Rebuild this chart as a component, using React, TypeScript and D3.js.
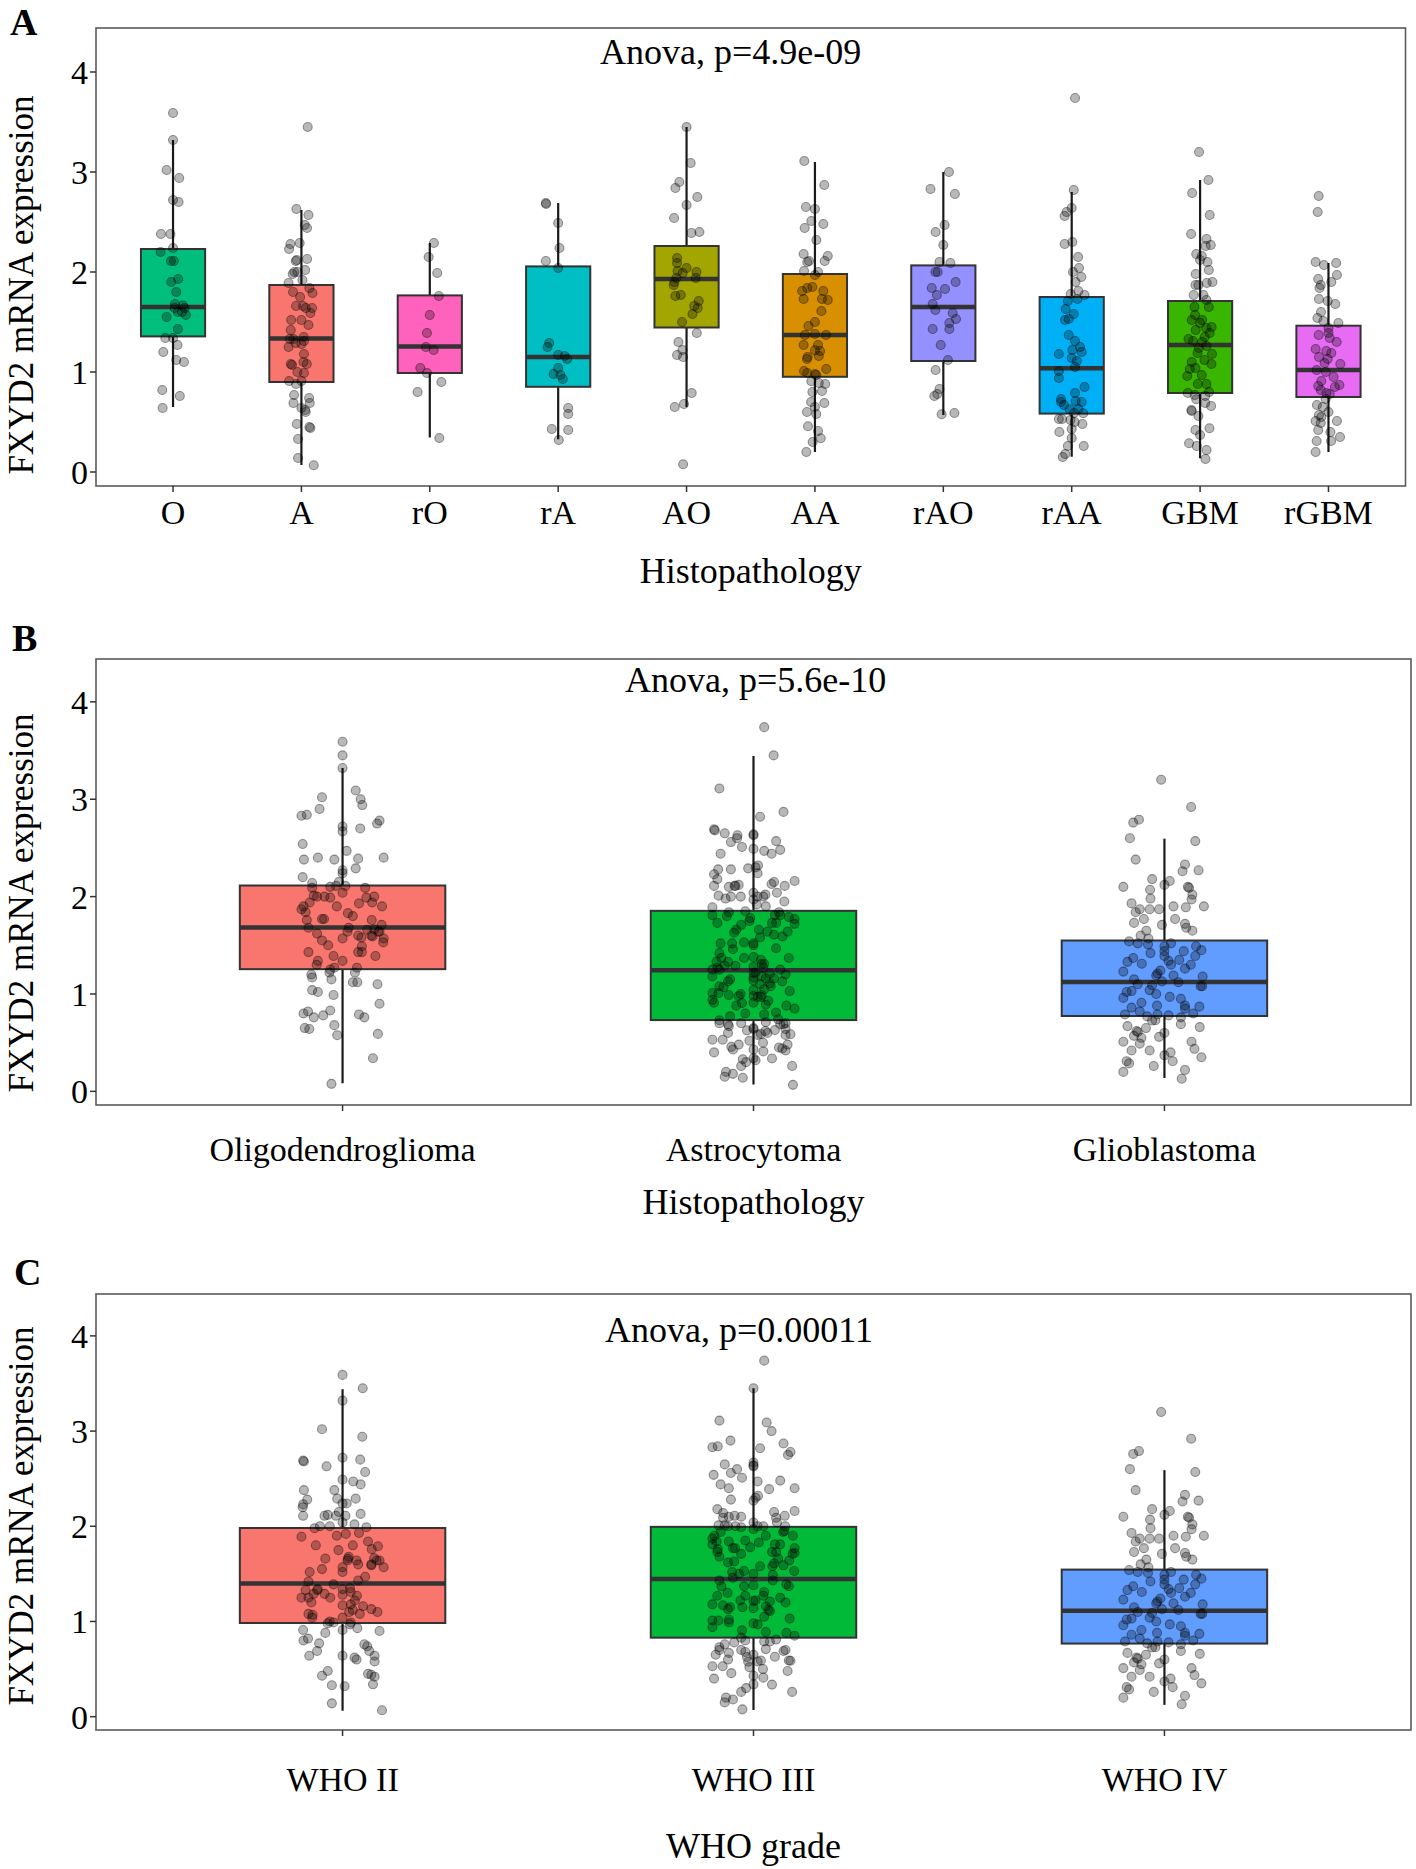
import React from "react";
import * as d3 from "d3";

// ---------------- DATA ----------------
const yTickValues = [0, 1, 2, 3, 4];

const histCategories = ["O", "A", "rO", "rA", "AO", "AA", "rAO", "rAA", "GBM", "rGBM"];
const histColors = ["#00BF7D", "#F8766D", "#FF62BC", "#00BFC4", "#A3A500", "#D89000", "#9590FF", "#00B0F6", "#39B600", "#E76BF3"];
const histLower = [0.65, 0.07, 0.345, 0.327, 0.65, 0.2, 0.57, 0.153, 0.137, 0.2];
const histQ1 = [1.356, 0.9, 0.99, 0.852, 1.445, 0.952, 1.11, 0.584, 0.79, 0.75];
const histMedian = [1.649, 1.334, 1.256, 1.15, 1.93, 1.37, 1.65, 1.038, 1.27, 1.02];
const histQ3 = [2.23, 1.87, 1.766, 2.056, 2.26, 1.98, 2.066, 1.75, 1.71, 1.463];
const histUpper = [3.32, 2.62, 2.29, 2.69, 3.45, 3.1, 3.0, 2.8, 2.92, 2.09];

// points: [value, jitter offset in category units]
type Pt = [number, number];
const O_pts: Pt[] = [[3.59,0],[3.32,0],[3.02,-0.05],[2.94,0.048],[2.72,0],[2.7,0.043],[2.38,-0.094],[2.38,-0.02],[2.24,0],[2.2,-0.097],[2.11,-0.016],[2.11,0.007],[1.9,-0.014],[1.93,0.04],[1.8,0.025],[1.68,0.015],[1.665,0.077],[1.64,0.09],[1.64,0.012],[1.6,0.038],[1.6,0.07],[1.57,0.1],[1.55,-0.05],[1.43,0.038],[1.34,-0.06],[1.34,0],[1.27,0.035],[1.2,-0.076],[1.12,0.025],[1.1,0.085],[0.82,-0.084],[0.76,0.053],[0.64,-0.081]];
const A_pts: Pt[] = [[3.45,0.049],[2.63,-0.039],[2.57,0.055],[2.47,0.026],[2.44,0.044],[2.28,-0.086],[2.29,-0.013],[2.23,-0.096],[2.11,-0.044],[2.12,-0.036],[2.13,0.044],[2.0,-0.055],[2.0,-0.031],[2.02,0.029],[1.98,-0.068],[1.89,-0.1],[1.92,0.008],[1.84,0.062],[1.79,0.086],[1.8,-0.065],[1.75,-0.01],[1.66,-0.042],[1.66,0.013],[1.64,0.034],[1.64,0.083],[1.59,0.07],[1.52,-0.08],[1.52,0],[1.47,0.055],[1.42,-0.083],[1.33,-0.09],[1.33,-0.062],[1.35,0.018],[1.29,-0.044],[1.28,0],[1.31,0.02],[1.25,-0.1],[1.18,0.02],[1.08,-0.083],[1.07,-0.073],[1.1,0.016],[1.08,0.042],[1.0,-0.031],[0.99,0.02],[0.91,-0.096],[0.88,-0.042],[0.91,0],[0.77,-0.057],[0.69,-0.062],[0.74,0.06],[0.69,0.065],[0.64,0],[0.6,0.034],[0.62,0.029],[0.48,-0.036],[0.45,0.062],[0.44,0.07],[0.33,-0.026],[0.14,-0.026],[0.067,0.096]];
const rO_pts: Pt[] = [[2.29,0.032],[2.15,-0.009],[1.99,0.058],[1.76,0.071],[1.57,0],[1.39,-0.022],[1.25,-0.03],[1.22,0.03],[1.04,-0.074],[0.99,-0.022],[0.9,0.09],[0.8,-0.095],[0.34,0.074]];
const rA_pts: Pt[] = [[2.69,-0.096],[2.68,-0.094],[2.49,0],[2.24,0.01],[2.11,-0.096],[2.04,0],[1.29,-0.07],[1.25,-0.083],[1.17,0],[1.16,0.05],[1.13,0.07],[1.04,0],[0.98,-0.036],[0.97,0.018],[0.93,0.036],[0.64,0.078],[0.58,0.078],[0.43,-0.05],[0.42,0.078],[0.32,0.005]];
const AO_pts: Pt[] = [[3.45,0],[3.09,0.032],[2.9,-0.056],[2.84,-0.087],[2.75,0.084],[2.67,0],[2.54,-0.097],[2.39,0.038],[2.4,0.1],[2.14,-0.074],[2.09,-0.074],[2.04,0],[2.0,0.077],[2.01,-0.07],[1.99,-0.03],[1.94,-0.08],[1.9,-0.095],[1.94,0.072],[1.87,-0.1],[1.76,-0.087],[1.77,-0.045],[1.71,0.095],[1.66,0.06],[1.64,0.087],[1.58,0.046],[1.5,-0.035],[1.39,0.08],[1.3,-0.063],[1.17,-0.074],[1.22,-0.032],[1.15,-0.027],[0.79,0.04],[0.65,-0.092],[0.68,-0.02],[0.077,-0.027]];
const AA_pts: Pt[] = [[3.11,-0.083],[2.87,0.073],[2.65,-0.07],[2.63,0],[2.51,-0.028],[2.44,-0.08],[2.48,0.065],[2.32,0.011],[2.18,-0.088],[2.16,0.1],[2.1,-0.06],[2.11,-0.046],[2.11,0.076],[2.01,-0.085],[2.0,0.024],[1.97,0],[1.85,-0.02],[1.84,-0.06],[1.81,-0.1],[1.81,0.065],[1.73,-0.088],[1.73,0.055],[1.72,0.1],[1.61,0.05],[1.5,0],[1.46,-0.05],[1.37,-0.078],[1.38,0],[1.37,0.086],[1.27,0.024],[1.27,-0.088],[1.217,0],[1.21,0.04],[1.13,-0.062],[1.15,-0.057],[1.16,0.03],[1.01,-0.085],[1.03,0.088],[0.99,-0.06],[0.98,0],[0.97,0.01],[0.907,-0.028],[0.89,0.03],[0.88,0.08],[0.8,-0.02],[0.81,0.055],[0.7,-0.03],[0.69,0.073],[0.65,0],[0.6,-0.062],[0.58,0.01],[0.457,-0.054],[0.41,0.024],[0.337,0.045],[0.3,-0.018],[0.2,-0.067]];
const rAO_pts: Pt[] = [[3.0,0.044],[2.83,-0.1],[2.78,0.09],[2.47,0.01],[2.4,-0.06],[2.27,0],[2.1,-0.03],[2.09,0.055],[2.0,-0.062],[2.0,-0.044],[1.9,0.096],[1.84,-0.09],[1.83,0.013],[1.77,-0.05],[1.68,-0.083],[1.62,-0.062],[1.59,0.073],[1.53,0.099],[1.49,0.047],[1.43,0.047],[1.43,-0.083],[1.27,-0.02],[1.12,0.036],[1.02,-0.06],[0.83,-0.03],[0.76,-0.07],[0.78,-0.047],[0.577,-0.013],[0.59,0.086]];
const rAA_pts: Pt[] = [[3.74,0.026],[2.82,0.016],[2.64,0],[2.6,-0.04],[2.56,-0.055],[2.28,-0.055],[2.3,0.005],[2.15,0.05],[2.04,0.057],[2.0,0.01],[1.95,0.075],[1.9,0.03],[1.78,-0.008],[1.81,0.052],[1.77,0.1],[1.71,-0.03],[1.73,0.045],[1.63,-0.047],[1.58,0.016],[1.52,-0.052],[1.53,-0.023],[1.37,-0.023],[1.31,0.026],[1.25,0.065],[1.2,0.078],[1.22,0.005],[1.18,-0.1],[1.14,0],[1.11,0.04],[1.05,0.026],[1.01,-0.1],[0.94,-0.1],[0.85,0.1],[0.79,0.026],[0.73,-0.083],[0.7,0.078],[0.7,-0.083],[0.67,-0.06],[0.71,0.03],[0.627,-0.016],[0.63,0.052],[0.587,0.09],[0.59,0.018],[0.53,-0.1],[0.52,-0.01],[0.5,0.023],[0.48,0.083],[0.53,-0.075],[0.43,0],[0.4,-0.096],[0.34,0],[0.26,-0.03],[0.26,0.094],[0.18,-0.05],[0.15,-0.07]];
const GBM_pts: Pt[] = [[3.2,-0.008],[2.92,0.065],[2.79,-0.062],[2.57,0.075],[2.38,-0.07],[2.33,0.05],[2.27,0.083],[2.26,0.044],[2.18,-0.03],[2.16,0.013],[2.12,0],[2.1,0.057],[2.02,0.068],[1.98,-0.034],[1.9,0.096],[1.89,0.052],[1.87,-0.036],[1.87,-0.013],[1.77,-0.05],[1.77,0.026],[1.72,0.05],[1.65,0.068],[1.65,-0.044],[1.57,-0.039],[1.52,-0.065],[1.52,0.016],[1.49,0],[1.44,0.047],[1.45,0.09],[1.42,-0.034],[1.39,0.075],[1.35,0.036],[1.33,-0.09],[1.31,-0.055],[1.3,0.016],[1.26,0.05],[1.24,-0.01],[1.19,-0.02],[1.18,0.093],[1.12,0.034],[1.1,-0.065],[1.08,0.088],[1.04,-0.036],[1.03,-0.08],[0.97,0.013],[0.96,-0.1],[0.88,-0.018],[0.88,0.05],[0.8,0.07],[0.79,-0.096],[0.77,-0.042],[0.76,0.04],[0.727,-0.03],[0.69,0.04],[0.66,0.086],[0.62,-0.068],[0.61,-0.065],[0.56,-0.013],[0.437,0.073],[0.42,-0.036],[0.37,0],[0.287,-0.086],[0.26,-0.026],[0.22,0.05],[0.13,0.042]];
const rGBM_pts: Pt[] = [[2.76,-0.076],[2.6,-0.084],[2.1,-0.1],[2.09,0.06],[2.07,-0.035],[1.97,0.066],[1.93,-0.08],[1.9,0.022],[1.87,-0.06],[1.84,-0.07],[1.73,-0.074],[1.71,-0.006],[1.68,0.053],[1.6,-0.058],[1.54,-0.086],[1.51,-0.04],[1.49,0.077],[1.44,0],[1.37,-0.076],[1.34,0.01],[1.3,0.064],[1.21,-0.017],[1.23,-0.1],[1.15,-0.074],[1.13,-0.006],[1.08,0.092],[1.02,-0.092],[1.0,-0.02],[0.95,0.04],[0.91,-0.056],[0.87,0.085],[0.86,-0.08],[0.82,-0.06],[0.78,0.01],[0.73,-0.022],[0.67,-0.09],[0.65,-0.045],[0.6,0],[0.57,-0.074],[0.51,-0.1],[0.51,0.066],[0.49,-0.06],[0.42,-0.08],[0.4,0.015],[0.35,0.09],[0.31,-0.092],[0.31,0.02],[0.2,-0.1],[0.55,-0.056],[1.39,0],[1.19,0.022],[1.09,-0.03],[0.85,0.05],[0.79,-0.017]];

const typeCategories = ["Oligodendroglioma", "Astrocytoma", "Glioblastoma"];
const gradeCategories = ["WHO II", "WHO III", "WHO IV"];
const threeColors = ["#F8766D", "#00BA38", "#619CFF"];

const typeLower = [0.083, 0.07, 0.137];
const typeQ1 = [1.255, 0.732, 0.774];
const typeMedian = [1.682, 1.243, 1.122];
const typeQ3 = [2.114, 1.854, 1.549];
const typeUpper = [3.32, 3.445, 2.595];

const gradeLower = [0.062, 0.07, 0.124];
const gradeQ1 = [0.984, 0.83, 0.768];
const gradeMedian = [1.4, 1.445, 1.113];
const gradeQ3 = [1.982, 1.994, 1.545];
const gradeUpper = [3.44, 3.45, 2.59];

const histGroups = [O_pts, A_pts, rO_pts, rA_pts, AO_pts, AA_pts, rAO_pts, rAA_pts, GBM_pts, rGBM_pts];
const typeGroups = [
  [...O_pts, ...rO_pts, ...AO_pts, ...rAO_pts],
  [...A_pts, ...rA_pts, ...AA_pts, ...rAA_pts],
  [...GBM_pts, ...rGBM_pts],
];
const gradeGroups = [
  [...O_pts, ...A_pts, ...rO_pts, ...rA_pts],
  [...AO_pts, ...AA_pts, ...rAO_pts, ...rAA_pts],
  [...GBM_pts, ...rGBM_pts],
];

const yDomain: [number, number] = [-0.14, 4.44];
const yTitle = "FXYD2 mRNA expression";

// ---------------- RENDER ----------------
const FONT = '"Liberation Serif", "Times New Roman", serif';

type PanelProps = {
  letter: string; letterX: number; letterY: number;
  top: number; bottom: number; left: number; right: number;
  categories: string[]; colors: string[];
  lower: number[]; q1: number[]; median: number[]; q3: number[]; upper: number[];
  groups: Pt[][];
  anova: string; anovaX: number; anovaY: number;
  xTitle: string; tickBaseline: number; titleBaseline: number; yTitleCenter: number;
};

function Panel(p: PanelProps) {
  const x = d3.scalePoint<string>().domain(p.categories).range([p.left, p.right]).padding(0.6);
  const step = x.step();
  const y = d3.scaleLinear().domain(yDomain).range([p.bottom, p.top]);
  const bw = step * 0.5;
  return (
    <g>
      <text x={p.letterX} y={p.letterY} fontFamily={FONT} fontWeight="bold" fontSize={38}>{p.letter}</text>
      {p.categories.map((c, i) => {
        const cx = x(c)!;
        return (
          <g key={c}>
            <line x1={cx} x2={cx} y1={y(p.lower[i])} y2={y(p.upper[i])} stroke="#1a1a1a" strokeWidth={2.2} />
            <rect x={cx - bw / 2} width={bw} y={y(p.q3[i])} height={y(p.q1[i]) - y(p.q3[i])}
              fill={p.colors[i]} stroke="#333" strokeWidth={2} />
            <line x1={cx - bw / 2} x2={cx + bw / 2} y1={y(p.median[i])} y2={y(p.median[i])} stroke="#333" strokeWidth={4.5} />
          </g>
        );
      })}
      {p.categories.map((c, i) => {
        const cx = x(c)!;
        return (
          <g key={"p" + c}>
            {p.groups[i].map((d, k) => (
              <circle key={k} cx={cx + d[1] * step} cy={y(d[0])} r={4.5}
                fill="rgba(0,0,0,0.28)" stroke="rgba(0,0,0,0.38)" strokeWidth={1.1} />
            ))}
          </g>
        );
      })}
      <rect x={p.left} y={p.top} width={p.right - p.left} height={p.bottom - p.top}
        fill="none" stroke="#5a5a5a" strokeWidth={1.6} />
      {yTickValues.map((t) => (
        <g key={t}>
          <line x1={p.left - 6} x2={p.left} y1={y(t)} y2={y(t)} stroke="#333" strokeWidth={1.5} />
          <text x={p.left - 8} y={y(t)} dy="0.35em" textAnchor="end" fontFamily={FONT} fontSize={34}>{t}</text>
        </g>
      ))}
      {p.categories.map((c) => (
        <g key={"t" + c}>
          <line x1={x(c)!} x2={x(c)!} y1={p.bottom} y2={p.bottom + 6} stroke="#333" strokeWidth={1.5} />
          <text x={x(c)!} y={p.tickBaseline} textAnchor="middle" fontFamily={FONT} fontSize={34}>{c}</text>
        </g>
      ))}
      <text x={(p.left + p.right) / 2} y={p.titleBaseline} textAnchor="middle" fontFamily={FONT} fontSize={36}>{p.xTitle}</text>
      <text transform={`translate(33,${p.yTitleCenter}) rotate(-90)`} textAnchor="middle" fontFamily={FONT} fontSize={35}>{yTitle}</text>
      <text x={p.anovaX} y={p.anovaY} fontFamily={FONT} fontSize={36}>{p.anova}</text>
    </g>
  );
}

export default function App() {
  return (
    <svg width={1416} height={1869} style={{ position: "absolute", left: 0, top: 0, background: "#fff" }}>
      <rect x={0} y={0} width={1416} height={1869} fill="#fff" />
      <Panel letter="A" letterX={10} letterY={35} top={28} bottom={486} left={96} right={1405.5}
        categories={histCategories} colors={histColors}
        lower={histLower} q1={histQ1} median={histMedian} q3={histQ3} upper={histUpper}
        groups={histGroups} anova="Anova, p=4.9e-09" anovaX={600} anovaY={64}
        xTitle="Histopathology" tickBaseline={524} titleBaseline={583} yTitleCenter={285} />
      <Panel letter="B" letterX={12} letterY={651} top={659} bottom={1105} left={96} right={1411}
        categories={typeCategories} colors={threeColors}
        lower={typeLower} q1={typeQ1} median={typeMedian} q3={typeQ3} upper={typeUpper}
        groups={typeGroups} anova="Anova, p=5.6e-10" anovaX={625} anovaY={692}
        xTitle="Histopathology" tickBaseline={1161} titleBaseline={1214} yTitleCenter={903} />
      <Panel letter="C" letterX={14} letterY={1285} top={1294} bottom={1730} left={96} right={1411}
        categories={gradeCategories} colors={threeColors}
        lower={gradeLower} q1={gradeQ1} median={gradeMedian} q3={gradeQ3} upper={gradeUpper}
        groups={gradeGroups} anova="Anova, p=0.00011" anovaX={605} anovaY={1342}
        xTitle="WHO grade" tickBaseline={1791} titleBaseline={1858} yTitleCenter={1516} />
    </svg>
  );
}
